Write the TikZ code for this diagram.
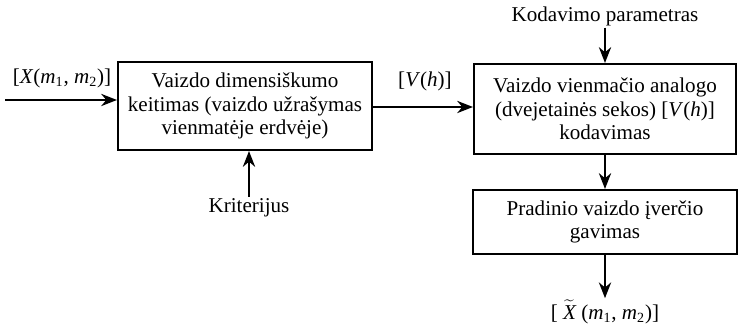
\documentclass[tikz,border=0pt]{standalone}
\usepackage{fontspec}
\setmainfont{Liberation Serif}
\usetikzlibrary{arrows.meta, positioning}

\begin{document}
\begin{tikzpicture}[
    x=0.02cm, y=-0.02cm,
    block/.style={rectangle, draw, line width=1.2pt, align=center, inner sep=2pt, font=\fontsize{12}{13.5}\selectfont},
    label/.style={inner sep=1pt, font=\fontsize{12}{13.5}\selectfont},
    arrow/.style={line width=1pt, -{Stealth[length=9pt, width=7pt]}}
]
    \useasboundingbox (0,0) rectangle (738,327);

    % Blocks
    \node (dim) [block, minimum width=254*0.02cm, minimum height=88*0.02cm] at (245,106)
        {Vaizdo dimensiškumo\\keitimas (vaizdo užrašymas\\vienmatėje erdvėje)};
    \node (kod) [block, minimum width=262*0.02cm, minimum height=90*0.02cm] at (605,109)
        {Vaizdo vienmačio analogo\\(dvejetainės sekos) [\textit{V}(\textit{h})]\\kodavimas};
    \node (ivert) [block, minimum width=264*0.02cm, minimum height=64*0.02cm] at (605,222)
        {Pradinio vaizdo įverčio\\gavimas};

    % Inputs and outputs
    \coordinate (in) at (5,100);
    \node (xin) [label] at (62,78) {[\textit{X}(\textit{m}\textsubscript{1}, \textit{m}\textsubscript{2})]};
    \node (vh) [label] at (425,81) {[\textit{V}(\textit{h})]};
    \node (krit) [label] at (249,208) {Kriterijus};
    \node (param) [label] at (605,16) {Kodavimo parametras};
    \node (out) [label] at (605,312) {[\hspace{3pt}$\widetilde{\mbox{\itshape X}}$\hspace{3pt}(\textit{m}\textsubscript{1}, \textit{m}\textsubscript{2})]};

    % Connectors
    \draw [arrow] (in) -- (in -| dim.west);
    \draw [arrow] (dim.east |- 0,107) -- (kod.west |- 0,107);
    \draw [arrow] (krit.north -| 249,0) -- (dim.south -| 249,0);
    \draw [arrow] (param) -- (kod);
    \draw [arrow] (kod) -- (ivert);
    \draw [arrow] (ivert) -- (out);
\end{tikzpicture}
\end{document}
